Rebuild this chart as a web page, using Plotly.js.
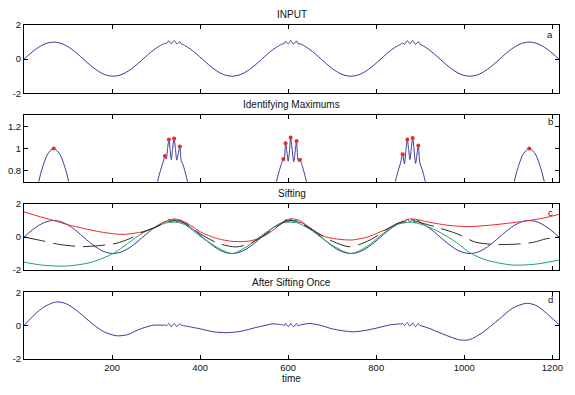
<!DOCTYPE html>
<html>
<head>
<meta charset="utf-8">
<script src="https://cdn.plot.ly/plotly-3.0.1.min.js"></script>
<style>html,body{margin:0;padding:0;background:#fff;}#chart{width:575px;height:395px;}</style>
</head>
<body>
<div id="chart"></div>
<script>
// ---- Panel a/b/c: input signal ----
var inputX = [0,13.5,27,40.5,54,67.5,81,94.5,108,121.5,135,148.5,162,175.5,189,202.5,216,229.5,243,256.5,270,283.5,297,
  305,310,314,317,320,323,326,329,332,334.5,337.5,341,344,347,350.5,354,357,360,
  364.5,378,391.5,405,418.5,432,445.5,459,472.5,486,499.5,513,526.5,540,553.5,567,
  575,580,585,589,591,594,597,600,603,605.5,609,612.5,616,619,622,624.5,626.6,630,
  634.5,648,661.5,675,688.5,702,715.5,729,742.5,756,769.5,783,796.5,810,823.5,837,
  845,850,855,860,864,867,870.5,873.5,876.5,879.5,882.7,886,889.3,892.5,895.5,899,
  904.5,918,931.5,945,958.5,972,985.5,999,1012.5,1026,1039.5,1053,1066.5,1080,1093.5,1107,1120.5,1134,1147.5,1161,1174.5,1188,1201.5,1215];
var inputY = [0,0.309,0.588,0.809,0.951,1,0.951,0.809,0.588,0.309,0,-0.309,-0.588,-0.809,-0.951,-1,-0.951,-0.809,-0.588,-0.309,0,0.309,0.588,
  0.728,0.802,0.854,0.889,0.933,0.905,1.0,1.081,0.98,0.90,1.0,1.09,0.99,0.895,0.96,1.018,0.89,0.866,
  0.809,0.588,0.309,0,-0.309,-0.588,-0.809,-0.951,-1,-0.951,-0.809,-0.588,-0.309,0,0.309,0.588,
  0.728,0.802,0.866,0.905,0.89,1.048,0.97,0.886,0.98,1.099,0.99,0.88,0.98,1.068,0.9,0.88,0.898,0.866,
  0.809,0.588,0.309,0,-0.309,-0.588,-0.809,-0.951,-1,-0.951,-0.809,-0.588,-0.309,0,0.309,0.588,
  0.728,0.802,0.866,0.949,0.86,0.97,1.081,0.99,0.90,1.0,1.096,0.98,0.865,0.95,1.027,0.87,
  0.809,0.588,0.309,0,-0.309,-0.588,-0.809,-0.951,-1,-0.951,-0.809,-0.588,-0.309,0,0.309,0.588,0.809,0.951,1,0.951,0.809,0.588,0.309,0];

// ---- Panel b: detected maxima ----
var maxX = [67.5,320,329,341,354,589,594,605.5,619,626.6,860,870.5,882.7,895.5,1147.5];
var maxY = [1,0.933,1.081,1.09,1.018,0.905,1.048,1.099,1.068,0.898,0.949,1.081,1.096,1.027,1];

// ---- Panel c: envelopes and mean ----
var upperX = [0,30,58,67.5,100,134,180,225,270,300,320,335,345,360,380,400,440,475,513,545,570,594,610,626,650,680,710,745,780,801,830,860,875,890,920,960,1005,1060,1110,1147.5,1180,1215];
var upperY = [1.52,1.28,1.07,1.0,0.74,0.53,0.28,0.16,0.32,0.6,0.93,1.07,1.09,0.98,0.68,0.32,-0.1,-0.27,-0.24,0.05,0.5,1.02,1.1,1.0,0.55,0.05,-0.12,-0.18,0.0,0.22,0.55,0.95,1.09,1.07,0.9,0.72,0.63,0.72,0.87,1.0,1.15,1.37];
var lowerX = [0,40,96,150,202.5,235,270,300,323,335,347,365,400,440,472.5,505,540,570,591,606,620,650,700,742.5,780,820,850,864,877,889,910,945,983,1012,1050,1110,1160,1215];
var lowerY = [-1.52,-1.7,-1.76,-1.55,-1.0,-0.4,0.25,0.62,0.86,0.9,0.89,0.75,0.05,-0.65,-1.0,-0.6,0.1,0.62,0.88,0.9,0.87,0.45,-0.5,-1.0,-0.55,0.3,0.78,0.86,0.9,0.86,0.7,0.28,-0.35,-0.95,-1.4,-1.7,-1.65,-1.4];
var meanX = [0,40,74,100,134,172,210,240,270,300,323,335,347,365,400,440,480,513,545,570,594,606,620,650,700,740,786,820,850,864,877,889,910,945,983,1026,1064,1112,1157,1187,1215];
var meanY = [0.0,-0.22,-0.42,-0.52,-0.58,-0.52,-0.38,-0.1,0.3,0.61,0.9,0.98,0.99,0.85,0.2,-0.37,-0.6,-0.4,0.1,0.55,0.95,1.0,0.95,0.5,-0.25,-0.59,-0.18,0.4,0.85,0.92,0.99,0.96,0.8,0.53,0.2,-0.32,-0.44,-0.44,-0.32,-0.1,0.0];

// ---- Panel d: after sifting once ----
var siftX = [0,20,40,60,75,95,120,150,180,210,235,260,290,305,
  310,317,320,323,326,329,332,334.5,337.5,341,344,347,350.5,354,357,360,
  375,400,430,460,490,530,566,575,
  585,589,591,594,597,600,603,605.5,609,612.5,616,619,622,624.5,626.6,634,
  649,675,700,748,790,830,850,
  855,860,864,867,870.5,873.5,876.5,879.5,882.7,886,889.3,892.5,895.5,899,
  915,950,990,1012,1040,1080,1110,1142,1165,1187,1200,1215];
var siftY = [0,0.55,1.02,1.31,1.42,1.32,0.9,0.22,-0.36,-0.62,-0.55,-0.25,0.0,0.03,
  0.02,0.02,0.035,-0.02,0.055,0.12,0.01,-0.08,0.02,0.11,0.02,-0.06,0.02,0.11,0.01,0.0,
  -0.07,-0.2,-0.38,-0.43,-0.36,-0.1,0.1,0.08,
  0.05,0.025,-0.01,0.13,0.03,-0.07,0.015,0.13,0.02,-0.08,0.03,0.13,-0.01,-0.01,0.03,0.07,
  0.12,0.0,-0.2,-0.38,-0.22,0.03,0.09,
  0.09,0.12,0.0,0.08,0.17,0.06,-0.04,0.05,0.15,0.04,-0.07,0.03,0.13,0.01,
  -0.12,-0.5,-0.87,-0.85,-0.45,0.4,1.05,1.34,1.18,0.73,0.42,0.05];

var xTicks = [200,400,600,800,1000,1200];
var panelTitles = ['INPUT','Identifying Maximums','Sifting','After Sifting Once'];
var panelLetters = ['a','b','c','d'];

var BLUE = '#38389e', RED = '#f02828', GREEN = '#14aa55', DASH = '#2a2a2a';
var H = 395;
// panel pixel boxes [top, bottom]
var boxes = [[25,93.3],[115.3,181.7],[204,270],[292.3,358.7]];
function dom(b){ return [1 - b[1]/H, 1 - b[0]/H]; }

var line = function(x,y,xa,ya,color,dash){
  return {x:x,y:y,xaxis:xa,yaxis:ya,type:'scatter',mode:'lines',
    line:{color:color,width:1,shape:'spline',smoothing:0.8,dash:dash||'solid'},hoverinfo:'skip'};
};

var traces = [
  line(inputX,inputY,'x','y',BLUE),
  line(inputX,inputY,'x2','y2',BLUE),
  {x:maxX,y:maxY,xaxis:'x2',yaxis:'y2',type:'scatter',mode:'markers',marker:{color:RED,size:4},hoverinfo:'skip'},
  line(inputX,inputY,'x3','y3',BLUE),
  line(upperX,upperY,'x3','y3',RED),
  line(lowerX,lowerY,'x3','y3',GREEN),
  line(meanX,meanY,'x3','y3',DASH,'22px,8px'),
  line(siftX,siftY,'x4','y4',BLUE)
];

var tickFont = {family:'Liberation Sans, Arial, sans-serif',size:9.5,color:'#111'};
function xax(i,showLabels){
  return {domain:[0,1],range:[0,1215],anchor:'y'+(i===1?'':i),tickvals:xTicks,
    ticks:'inside',ticklen:4,tickcolor:'#000',showline:true,linecolor:'#000',linewidth:1,mirror:'ticks',
    showgrid:false,zeroline:false,showticklabels:showLabels,tickfont:tickFont,fixedrange:true};
}
function yax(i,range,vals,texts){
  return {domain:dom(boxes[i-1]),range:range,anchor:'x'+(i===1?'':i),tickvals:vals,ticktext:texts,
    ticks:'inside',ticklen:4,tickcolor:'#000',showline:true,linecolor:'#000',linewidth:1,mirror:'ticks',
    showgrid:false,zeroline:false,tickfont:tickFont,fixedrange:true};
}

var annotations = [];
var titleY = [15,104.5,194,282.3];
var letterY = [34,122,212,299.5];
for (var i=0;i<4;i++){
  annotations.push({text:panelTitles[i],xref:'paper',yref:'paper',x:0.5,y:1-titleY[i]/H,
    xanchor:'center',yanchor:'middle',showarrow:false,font:{family:'Liberation Sans, Arial, sans-serif',size:10,color:'#111'}});
  annotations.push({text:panelLetters[i],xref:'paper',yref:'paper',x:(550-24)/535,y:1-letterY[i]/H,
    xanchor:'center',yanchor:'middle',showarrow:false,font:{family:'Liberation Sans, Arial, sans-serif',size:9.5,color:'#111'}});
}
annotations.push({text:'time',xref:'paper',yref:'paper',x:0.5,y:1-378.5/H,xanchor:'center',yanchor:'middle',
  showarrow:false,font:{family:'Liberation Sans, Arial, sans-serif',size:10,color:'#111'}});

var layout = {
  width:575,height:395,margin:{l:24,r:16,t:0,b:0},
  paper_bgcolor:'#fff',plot_bgcolor:'#fff',showlegend:false,hovermode:false,
  xaxis:xax(1,false),xaxis2:xax(2,false),xaxis3:xax(3,false),xaxis4:xax(4,true),
  yaxis:yax(1,[-2,2],[-2,0,2],['-2','0','2']),
  yaxis2:yax(2,[0.7,1.3],[0.8,1,1.2],['0.8','1','1.2']),
  yaxis3:yax(3,[-2,2],[-2,0,2],['-2','0','2']),
  yaxis4:yax(4,[-2,2],[-2,0,2],['-2','0','2']),
  annotations:annotations
};
Plotly.newPlot('chart',traces,layout,{staticPlot:true,displayModeBar:false});
</script>
</body>
</html>
